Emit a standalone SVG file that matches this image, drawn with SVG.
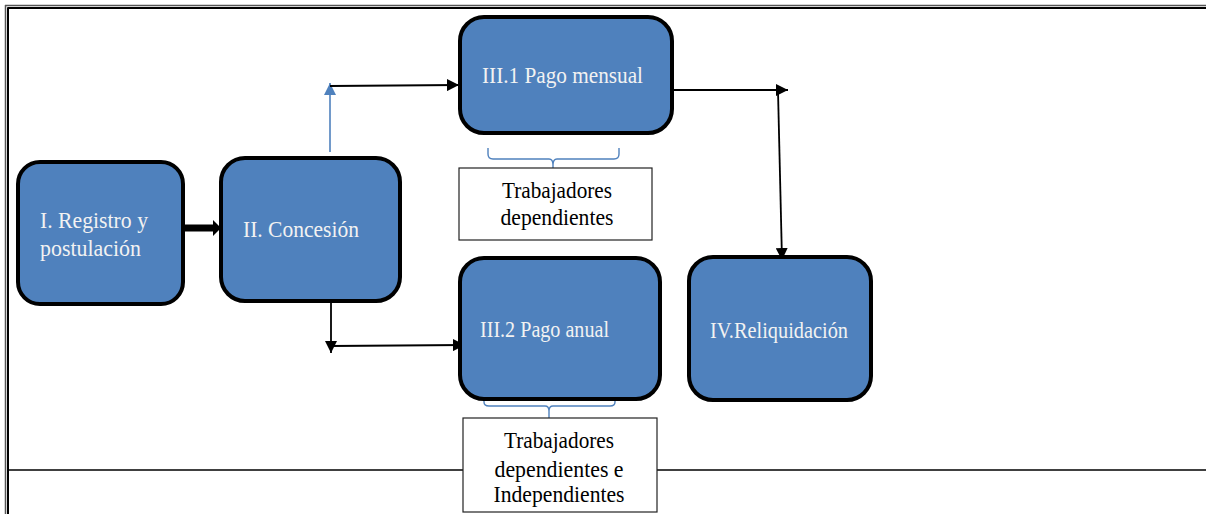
<svg xmlns="http://www.w3.org/2000/svg" width="1206" height="514" viewBox="0 0 1206 514">
<style>
.node{fill:#4F81BD;stroke:#000;stroke-width:4}
.nt{font-family:"Liberation Serif","Times New Roman",serif;fill:#F2F2F2;font-size:24px}
.lt{font-family:"Liberation Serif","Times New Roman",serif;fill:#000;font-size:24px;text-anchor:middle}
.lbox{fill:#fff;stroke:#222;stroke-width:1.2}
.con{fill:none;stroke:#000;stroke-width:1.8}
.blue{fill:none;stroke:#4F81BD;stroke-width:1.6}
.brace{fill:none;stroke:#4F81BD;stroke-width:1.4}
</style>
<defs>
<marker id="ah" viewBox="0 0 10 10" refX="10" refY="5" markerWidth="12" markerHeight="12" markerUnits="userSpaceOnUse" orient="auto">
<path d="M0,0 L10,5 L0,10 z" fill="#000"/>
</marker>
<marker id="ahb" viewBox="0 0 10 10" refX="10" refY="5" markerWidth="12" markerHeight="12" markerUnits="userSpaceOnUse" orient="auto">
<path d="M0,0 L10,5 L0,10 z" fill="#4F81BD"/>
</marker>
</defs>
<g id="frame">
<line x1="5" y1="5.5" x2="1206" y2="5.5" stroke="#555" stroke-width="1.5"/>
<line x1="7.5" y1="8" x2="1206" y2="8" stroke="#000" stroke-width="2"/>
<line x1="5.5" y1="5" x2="5.5" y2="514" stroke="#555" stroke-width="1.5"/>
<line x1="8" y1="7.5" x2="8" y2="514" stroke="#000" stroke-width="2"/>
<line x1="8" y1="470" x2="1206" y2="470" stroke="#000" stroke-width="1.5"/>
</g>
<g id="connectors">
<path d="M183,224.5 L213,224.5 L213,220 L221,228 L213,236 L213,231.5 L183,231.5 z" fill="#000"/>
<line class="blue" x1="330" y1="152" x2="330" y2="83" marker-end="url(#ahb)"/>
<line class="con" x1="330" y1="86" x2="459" y2="85" marker-end="url(#ah)"/>
<line class="con" x1="331" y1="299" x2="331" y2="353" marker-end="url(#ah)"/>
<line class="con" x1="331" y1="346" x2="465" y2="345" marker-end="url(#ah)"/>
<line class="con" x1="672" y1="90" x2="788" y2="90" marker-end="url(#ah)"/>
<line class="con" x1="778" y1="91" x2="782" y2="260" marker-end="url(#ah)"/>
<path class="brace" d="M488,148 L488,154 Q488,159 493,159 L549,159 Q553,159 553,165 L553,173 M553,165 Q553,159 557,159 L614,159 Q619,159 619,154 L619,148"/>
<path class="brace" d="M484,398 L484,402 Q484,406 489,406 L545,406 Q549,406 549,411 L549,420 M549,411 Q549,406 553,406 L610,406 Q615,406 615,402 L615,398"/>
</g>
<g id="n1">
<rect class="node" x="18" y="162" width="165" height="142" rx="22"/>
<text class="nt" x="40" y="228" textLength="108" lengthAdjust="spacingAndGlyphs">I. Registro y</text>
<text class="nt" x="40" y="256" textLength="101" lengthAdjust="spacingAndGlyphs">postulación</text>
</g>
<g id="n2">
<rect class="node" x="221" y="158" width="179" height="143" rx="24"/>
<text class="nt" x="243" y="237" textLength="116" lengthAdjust="spacingAndGlyphs">II. Concesión</text>
</g>
<g id="n31">
<rect class="node" x="460" y="17" width="212" height="116" rx="24"/>
<text class="nt" x="482" y="83" font-size="20" textLength="161" lengthAdjust="spacingAndGlyphs">III.1 Pago mensual</text>
</g>
<g id="n32">
<rect class="node" x="460" y="258" width="200" height="141" rx="24"/>
<text class="nt" x="480" y="337" textLength="129" lengthAdjust="spacingAndGlyphs">III.2 Pago anual</text>
</g>
<g id="n4">
<rect class="node" x="689" y="257" width="182" height="143" rx="24"/>
<text class="nt" x="710" y="338" textLength="138" lengthAdjust="spacingAndGlyphs">IV.Reliquidación</text>
</g>
<g id="l1">
<rect class="lbox" x="459" y="168" width="193" height="72"/>
<text class="lt" x="557" y="198" textLength="110" lengthAdjust="spacingAndGlyphs">Trabajadores</text>
<text class="lt" x="557" y="225" textLength="113" lengthAdjust="spacingAndGlyphs">dependientes</text>
</g>
<g id="l2">
<rect class="lbox" x="463" y="418" width="194" height="94"/>
<text class="lt" x="559" y="448" textLength="110" lengthAdjust="spacingAndGlyphs">Trabajadores</text>
<text class="lt" x="559" y="477" textLength="129" lengthAdjust="spacingAndGlyphs">dependientes e</text>
<text class="lt" x="559" y="502" textLength="131" lengthAdjust="spacingAndGlyphs">Independientes</text>
</g>
</svg>
